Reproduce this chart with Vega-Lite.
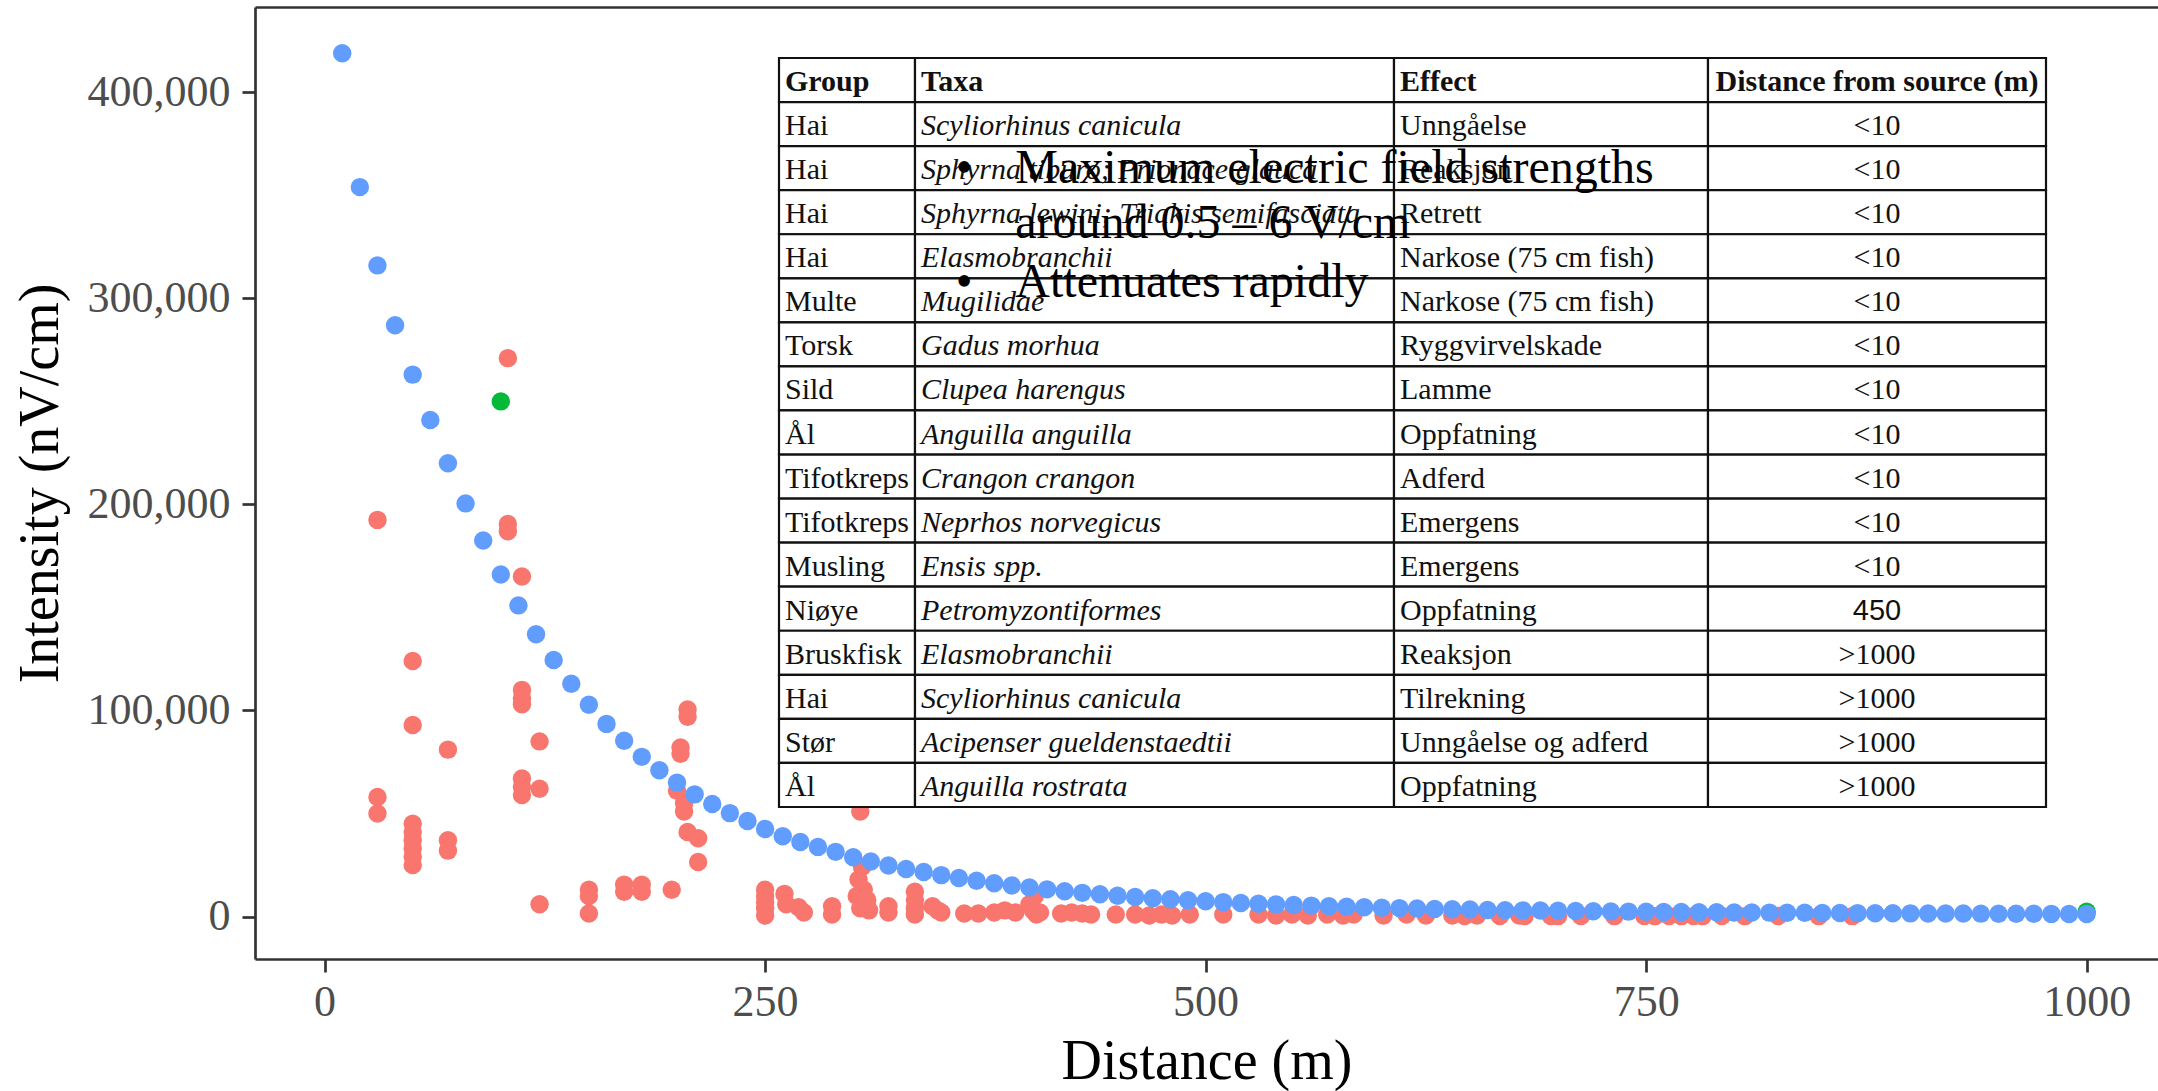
{
  "$schema": "https://vega.github.io/schema/vega-lite/v6.json",
  "width": 1903,
  "height": 952,
  "autosize": "none",
  "padding": {"left": 255, "top": 7, "right": 0, "bottom": 132},
  "background": "white",
  "config": {
    "font": "Liberation Serif",
    "view": {"stroke": null},
    "axis": {
      "grid": false,
      "labelFont": "Liberation Serif",
      "labelFontSize": 44,
      "labelColor": "#4D4D4D",
      "titleFont": "Liberation Serif",
      "titleFontSize": 56,
      "titleFontWeight": "normal",
      "titleColor": "#000000",
      "domainColor": "#333333",
      "domainWidth": 2.7,
      "tickColor": "#333333",
      "tickWidth": 2.7,
      "tickSize": 13
    }
  },
  "datasets": {
    "points": [
      {"d":30,"v":192500,"g":"measured"},{"d":30,"v":58000,"g":"measured"},{"d":30,"v":50000,"g":"measured"},
      {"d":50,"v":124000,"g":"measured"},{"d":50,"v":93000,"g":"measured"},{"d":50,"v":45000,"g":"measured"},{"d":50,"v":41000,"g":"measured"},{"d":50,"v":37000,"g":"measured"},{"d":50,"v":33000,"g":"measured"},{"d":50,"v":29000,"g":"measured"},{"d":50,"v":25000,"g":"measured"},
      {"d":70,"v":81000,"g":"measured"},{"d":70,"v":37000,"g":"measured"},{"d":70,"v":32000,"g":"measured"},
      {"d":104,"v":271000,"g":"measured"},{"d":104,"v":190500,"g":"measured"},{"d":104,"v":187000,"g":"measured"},
      {"d":112,"v":165000,"g":"measured"},{"d":112,"v":110000,"g":"measured"},{"d":112,"v":106000,"g":"measured"},{"d":112,"v":103000,"g":"measured"},{"d":112,"v":67000,"g":"measured"},{"d":112,"v":63000,"g":"measured"},{"d":112,"v":59000,"g":"measured"},
      {"d":122,"v":85000,"g":"measured"},{"d":122,"v":62000,"g":"measured"},{"d":122,"v":6000,"g":"measured"},
      {"d":150,"v":13000,"g":"measured"},{"d":150,"v":10000,"g":"measured"},{"d":150,"v":1500,"g":"measured"},
      {"d":170,"v":15500,"g":"measured"},{"d":170,"v":12000,"g":"measured"},
      {"d":180,"v":15500,"g":"measured"},{"d":180,"v":12000,"g":"measured"},
      {"d":197,"v":13000,"g":"measured"},
      {"d":200,"v":61000,"g":"measured"},
      {"d":202,"v":82000,"g":"measured"},{"d":202,"v":79000,"g":"measured"},
      {"d":204,"v":55000,"g":"measured"},{"d":204,"v":51000,"g":"measured"},
      {"d":206,"v":100500,"g":"measured"},{"d":206,"v":97000,"g":"measured"},{"d":206,"v":41000,"g":"measured"},
      {"d":212,"v":38000,"g":"measured"},{"d":212,"v":26500,"g":"measured"},
      {"d":250,"v":13000,"g":"measured"},{"d":250,"v":10000,"g":"measured"},{"d":250,"v":7000,"g":"measured"},{"d":250,"v":4000,"g":"measured"},{"d":250,"v":500,"g":"measured"},
      {"d":261,"v":11000,"g":"measured"},{"d":262,"v":6000,"g":"measured"},{"d":269,"v":4500,"g":"measured"},{"d":272,"v":2000,"g":"measured"},
      {"d":288,"v":5000,"g":"measured"},{"d":288,"v":1000,"g":"measured"},
      {"d":304,"v":51000,"g":"measured"},{"d":305,"v":24000,"g":"measured"},{"d":303,"v":18000,"g":"measured"},{"d":306,"v":13000,"g":"measured"},{"d":302,"v":10000,"g":"measured"},{"d":308,"v":8000,"g":"measured"},{"d":307,"v":6000,"g":"measured"},{"d":304,"v":4000,"g":"measured"},{"d":309,"v":3000,"g":"measured"},
      {"d":320,"v":5000,"g":"measured"},{"d":320,"v":2000,"g":"measured"},
      {"d":335,"v":12000,"g":"measured"},{"d":335,"v":8000,"g":"measured"},{"d":335,"v":4000,"g":"measured"},{"d":335,"v":1000,"g":"measured"},
      {"d":345,"v":5000,"g":"measured"},{"d":348,"v":3000,"g":"measured"},{"d":350,"v":2000,"g":"measured"},
      {"d":363,"v":1500,"g":"measured"},{"d":371,"v":1500,"g":"measured"},
      {"d":380,"v":2000,"g":"measured"},{"d":386,"v":3000,"g":"measured"},{"d":392,"v":2000,"g":"measured"},
      {"d":400,"v":6000,"g":"measured"},{"d":402,"v":3000,"g":"measured"},{"d":403,"v":10000,"g":"measured"},{"d":404,"v":1000,"g":"measured"},{"d":406,"v":2000,"g":"measured"},
      {"d":418,"v":1500,"g":"measured"},{"d":424,"v":2000,"g":"measured"},{"d":430,"v":1500,"g":"measured"},{"d":435,"v":1000,"g":"measured"},
      {"d":449,"v":1000,"g":"measured"},{"d":460,"v":1000,"g":"measured"},{"d":468,"v":500,"g":"measured"},{"d":475,"v":1000,"g":"measured"},{"d":481,"v":500,"g":"measured"},{"d":491,"v":1000,"g":"measured"},
      {"d":510,"v":1000,"g":"measured"},{"d":530,"v":1000,"g":"measured"},{"d":540,"v":500,"g":"measured"},{"d":549,"v":1000,"g":"measured"},{"d":558,"v":500,"g":"measured"},
      {"d":569,"v":1000,"g":"measured"},{"d":578,"v":500,"g":"measured"},{"d":584,"v":1000,"g":"measured"},
      {"d":601,"v":500,"g":"measured"},{"d":614,"v":1000,"g":"measured"},{"d":625,"v":500,"g":"measured"},
      {"d":640,"v":500,"g":"measured"},{"d":647,"v":300,"g":"measured"},{"d":654,"v":500,"g":"measured"},{"d":667,"v":300,"g":"measured"},{"d":678,"v":500,"g":"measured"},
      {"d":681,"v":300,"g":"measured"},{"d":696,"v":300,"g":"measured"},{"d":700,"v":200,"g":"measured"},{"d":713,"v":300,"g":"measured"},{"d":732,"v":200,"g":"measured"},{"d":749,"v":300,"g":"measured"},{"d":755,"v":200,"g":"measured"},{"d":763,"v":300,"g":"measured"},{"d":770,"v":200,"g":"measured"},{"d":777,"v":300,"g":"measured"},{"d":782,"v":200,"g":"measured"},{"d":793,"v":300,"g":"measured"},{"d":806,"v":200,"g":"measured"},{"d":825,"v":300,"g":"measured"},{"d":848,"v":200,"g":"measured"},{"d":867,"v":200,"g":"measured"},
      {"d":100,"v":250000,"g":"threshold"},{"d":1000,"v":2300,"g":"threshold"},
      {"d":10,"v":419000,"g":"model"},{"d":20,"v":354000,"g":"model"},{"d":30,"v":316000,"g":"model"},{"d":40,"v":287000,"g":"model"},{"d":50,"v":263000,"g":"model"},
      {"d":60,"v":241000,"g":"model"},{"d":70,"v":220000,"g":"model"},{"d":80,"v":200500,"g":"model"},{"d":90,"v":182500,"g":"model"},{"d":100,"v":166000,"g":"model"},
      {"d":110,"v":151000,"g":"model"},{"d":120,"v":137000,"g":"model"},{"d":130,"v":124500,"g":"model"},{"d":140,"v":113000,"g":"model"},{"d":150,"v":102800,"g":"model"},
      {"d":160,"v":93500,"g":"model"},{"d":170,"v":85300,"g":"model"},{"d":180,"v":77500,"g":"model"},{"d":190,"v":71000,"g":"model"},{"d":200,"v":65000,"g":"model"},
      {"d":210,"v":59300,"g":"model"},{"d":220,"v":54600,"g":"model"},{"d":230,"v":50200,"g":"model"},{"d":240,"v":46400,"g":"model"},{"d":250,"v":42500,"g":"model"},
      {"d":260,"v":39000,"g":"model"},{"d":270,"v":36200,"g":"model"},{"d":280,"v":33800,"g":"model"},{"d":290,"v":31400,"g":"model"},{"d":300,"v":28800,"g":"model"},
      {"d":310,"v":26700,"g":"model"},{"d":320,"v":24800,"g":"model"},{"d":330,"v":23100,"g":"model"},{"d":340,"v":21600,"g":"model"},{"d":350,"v":20100,"g":"model"},
      {"d":360,"v":18700,"g":"model"},{"d":370,"v":17400,"g":"model"},{"d":380,"v":16200,"g":"model"},{"d":390,"v":15100,"g":"model"},{"d":400,"v":14100,"g":"model"},
      {"d":410,"v":13200,"g":"model"},{"d":420,"v":12300,"g":"model"},{"d":430,"v":11500,"g":"model"},{"d":440,"v":10800,"g":"model"},{"d":450,"v":10100,"g":"model"},
      {"d":460,"v":9500,"g":"model"},{"d":470,"v":8900,"g":"model"},{"d":480,"v":8400,"g":"model"},{"d":490,"v":7900,"g":"model"},{"d":500,"v":7400,"g":"model"},
      {"d":510,"v":7000,"g":"model"},{"d":520,"v":6600,"g":"model"},{"d":530,"v":6200,"g":"model"},{"d":540,"v":5900,"g":"model"},{"d":550,"v":5600,"g":"model"},
      {"d":560,"v":5300,"g":"model"},{"d":570,"v":5000,"g":"model"},{"d":580,"v":4800,"g":"model"},{"d":590,"v":4500,"g":"model"},{"d":600,"v":4300,"g":"model"},
      {"d":610,"v":4100,"g":"model"},{"d":620,"v":3900,"g":"model"},{"d":630,"v":3700,"g":"model"},{"d":640,"v":3500,"g":"model"},{"d":650,"v":3400,"g":"model"},
      {"d":660,"v":3200,"g":"model"},{"d":670,"v":3100,"g":"model"},{"d":680,"v":3000,"g":"model"},{"d":690,"v":2900,"g":"model"},{"d":700,"v":2800,"g":"model"},
      {"d":710,"v":2700,"g":"model"},{"d":720,"v":2600,"g":"model"},{"d":730,"v":2500,"g":"model"},{"d":740,"v":2400,"g":"model"},{"d":750,"v":2300,"g":"model"},
      {"d":760,"v":2250,"g":"model"},{"d":770,"v":2200,"g":"model"},{"d":780,"v":2100,"g":"model"},{"d":790,"v":2050,"g":"model"},{"d":800,"v":2000,"g":"model"},
      {"d":810,"v":1950,"g":"model"},{"d":820,"v":1900,"g":"model"},{"d":830,"v":1850,"g":"model"},{"d":840,"v":1800,"g":"model"},{"d":850,"v":1750,"g":"model"},
      {"d":860,"v":1700,"g":"model"},{"d":870,"v":1660,"g":"model"},{"d":880,"v":1620,"g":"model"},{"d":890,"v":1580,"g":"model"},{"d":900,"v":1540,"g":"model"},
      {"d":910,"v":1500,"g":"model"},{"d":920,"v":1470,"g":"model"},{"d":930,"v":1440,"g":"model"},{"d":940,"v":1410,"g":"model"},{"d":950,"v":1380,"g":"model"},
      {"d":960,"v":1350,"g":"model"},{"d":970,"v":1320,"g":"model"},{"d":980,"v":1300,"g":"model"},{"d":990,"v":1270,"g":"model"},{"d":1000,"v":1250,"g":"model"}
    ],
    "table": [
      {"row":0,"Group":"Group","Taxa":"Taxa","Effect":"Effect","Distance":"Distance from source (m)"},
      {"row":1,"Group":"Hai","Taxa":"Scyliorhinus canicula","Effect":"Unngåelse","Distance":"<10"},
      {"row":2,"Group":"Hai","Taxa":"Sphyrna tiburo; Prionace glauca","Effect":"Reaksjon","Distance":"<10"},
      {"row":3,"Group":"Hai","Taxa":"Sphyrna lewini; Triakis semifasciata","Effect":"Retrett","Distance":"<10"},
      {"row":4,"Group":"Hai","Taxa":"Elasmobranchii","Effect":"Narkose (75 cm fish)","Distance":"<10"},
      {"row":5,"Group":"Multe","Taxa":"Mugilidae","Effect":"Narkose (75 cm fish)","Distance":"<10"},
      {"row":6,"Group":"Torsk","Taxa":"Gadus morhua","Effect":"Ryggvirvelskade","Distance":"<10"},
      {"row":7,"Group":"Sild","Taxa":"Clupea harengus","Effect":"Lamme","Distance":"<10"},
      {"row":8,"Group":"Ål","Taxa":"Anguilla anguilla","Effect":"Oppfatning","Distance":"<10"},
      {"row":9,"Group":"Tifotkreps","Taxa":"Crangon crangon","Effect":"Adferd","Distance":"<10"},
      {"row":10,"Group":"Tifotkreps","Taxa":"Neprhos norvegicus","Effect":"Emergens","Distance":"<10"},
      {"row":11,"Group":"Musling","Taxa":"Ensis spp.","Effect":"Emergens","Distance":"<10"},
      {"row":12,"Group":"Niøye","Taxa":"Petromyzontiformes","Effect":"Oppfatning","Distance":"450"},
      {"row":13,"Group":"Bruskfisk","Taxa":"Elasmobranchii","Effect":"Reaksjon","Distance":">1000"},
      {"row":14,"Group":"Hai","Taxa":"Scyliorhinus canicula","Effect":"Tilrekning","Distance":">1000"},
      {"row":15,"Group":"Stør","Taxa":"Acipenser gueldenstaedtii","Effect":"Unngåelse og adferd","Distance":">1000"},
      {"row":16,"Group":"Ål","Taxa":"Anguilla rostrata","Effect":"Oppfatning","Distance":">1000"}
    ],
    "cols": [
      {"col":"Group","left":0,"right":136,"mid":68},
      {"col":"Taxa","left":136,"right":615,"mid":375},
      {"col":"Effect","left":615,"right":929,"mid":772},
      {"col":"Distance","left":929,"right":1267,"mid":1098}
    ],
    "notes": [
      {"line":"Maximum electric field strengths","v":356000,"bullet":"•"},
      {"line":"around 0.5 – 6 V/cm","v":329500,"bullet":""},
      {"line":"Attenuates rapidly","v":300500,"bullet":"•"}
    ]
  },
  "layer": [
    {
      "data": {"name": "points"},
      "mark": {"type": "point", "filled": true, "opacity": 1, "size": 340, "shape": "circle", "strokeWidth": 0},
      "encoding": {
        "x": {"field": "d", "type": "quantitative",
          "scale": {"domain": [-39.5, 1040.5], "nice": false, "zero": false},
          "axis": {"orient": "bottom", "values": [0, 250, 500, 750, 1000], "format": "d", "title": "Distance (m)", "labelPadding": 8, "titlePadding": 10}},
        "y": {"field": "v", "type": "quantitative",
          "scale": {"domain": [-20600, 441400], "nice": false, "zero": false},
          "axis": {"orient": "left", "values": [0, 100000, 200000, 300000, 400000], "format": ",d", "title": "Intensity (nV/cm)", "labelPadding": 12, "titlePadding": 18}},
        "color": {"field": "g", "type": "nominal",
          "scale": {"domain": ["measured", "threshold", "model"], "range": ["#F8766D", "#00BA38", "#619CFF"]},
          "legend": null}
      }
    },
    {
      "data": {"name": "table"},
      "transform": [
        {"fold": ["Group", "Taxa", "Effect", "Distance"], "as": ["col", "text"]},
        {"lookup": "col", "from": {"data": {"name": "cols"}, "key": "col", "fields": ["left", "right", "mid"]}}
      ],
      "layer": [
        {
          "mark": {"type": "rect", "fill": "white", "stroke": "#111111", "strokeWidth": 2.2},
          "encoding": {
            "x": {"field": "left", "type": "quantitative", "scale": {"domain": [-524, 1379], "nice": false, "zero": false},
              "axis": {"orient": "top", "labels": false, "ticks": false, "title": null, "domain": true}},
            "x2": {"field": "right"},
            "y": {"field": "row", "type": "ordinal", "scale": {"type": "band", "domain": [0,1,2,3,4,5,6,7,8,9,10,11,12,13,14,15,16], "range": [51, 800], "paddingInner": 0, "paddingOuter": 0}, "axis": null}
          }
        },
        {
          "transform": [{"filter": "datum.row == 0 && datum.col != 'Distance'"}],
          "mark": {"type": "text", "align": "left", "baseline": "middle", "dx": 6, "dy": 2, "font": "Liberation Serif", "fontSize": 30, "fontWeight": "bold", "color": "#111111"},
          "encoding": {
            "x": {"field": "left", "type": "quantitative", "scale": {"domain": [-524, 1379], "nice": false, "zero": false},
              "axis": {"orient": "top", "labels": false, "ticks": false, "title": null, "domain": true}},
            "y": {"field": "row", "type": "ordinal", "scale": {"type": "band", "domain": [0,1,2,3,4,5,6,7,8,9,10,11,12,13,14,15,16], "range": [51, 800], "paddingInner": 0, "paddingOuter": 0}, "axis": null},
            "text": {"field": "text"}
          }
        },
        {
          "transform": [{"filter": "datum.row == 0 && datum.col == 'Distance'"}],
          "mark": {"type": "text", "align": "center", "baseline": "middle", "dy": 2, "font": "Liberation Serif", "fontSize": 30, "fontWeight": "bold", "color": "#111111"},
          "encoding": {
            "x": {"field": "mid", "type": "quantitative", "scale": {"domain": [-524, 1379], "nice": false, "zero": false},
              "axis": {"orient": "top", "labels": false, "ticks": false, "title": null, "domain": true}},
            "y": {"field": "row", "type": "ordinal", "scale": {"type": "band", "domain": [0,1,2,3,4,5,6,7,8,9,10,11,12,13,14,15,16], "range": [51, 800], "paddingInner": 0, "paddingOuter": 0}, "axis": null},
            "text": {"field": "text"}
          }
        },
        {
          "transform": [{"filter": "datum.row > 0 && datum.col == 'Taxa'"}],
          "mark": {"type": "text", "align": "left", "baseline": "middle", "dx": 6, "dy": 2, "font": "Liberation Serif", "fontSize": 30, "fontStyle": "italic", "color": "#111111"},
          "encoding": {
            "x": {"field": "left", "type": "quantitative", "scale": {"domain": [-524, 1379], "nice": false, "zero": false},
              "axis": {"orient": "top", "labels": false, "ticks": false, "title": null, "domain": true}},
            "y": {"field": "row", "type": "ordinal", "scale": {"type": "band", "domain": [0,1,2,3,4,5,6,7,8,9,10,11,12,13,14,15,16], "range": [51, 800], "paddingInner": 0, "paddingOuter": 0}, "axis": null},
            "text": {"field": "text"}
          }
        },
        {
          "transform": [{"filter": "datum.row > 0 && (datum.col == 'Group' || datum.col == 'Effect')"}],
          "mark": {"type": "text", "align": "left", "baseline": "middle", "dx": 6, "dy": 2, "font": "Liberation Serif", "fontSize": 30, "color": "#111111"},
          "encoding": {
            "x": {"field": "left", "type": "quantitative", "scale": {"domain": [-524, 1379], "nice": false, "zero": false},
              "axis": {"orient": "top", "labels": false, "ticks": false, "title": null, "domain": true}},
            "y": {"field": "row", "type": "ordinal", "scale": {"type": "band", "domain": [0,1,2,3,4,5,6,7,8,9,10,11,12,13,14,15,16], "range": [51, 800], "paddingInner": 0, "paddingOuter": 0}, "axis": null},
            "text": {"field": "text"}
          }
        },
        {
          "transform": [{"filter": "datum.row > 0 && datum.col == 'Distance' && datum.text != '450'"}],
          "mark": {"type": "text", "align": "center", "baseline": "middle", "dy": 2, "font": "Liberation Serif", "fontSize": 30, "color": "#111111"},
          "encoding": {
            "x": {"field": "mid", "type": "quantitative", "scale": {"domain": [-524, 1379], "nice": false, "zero": false},
              "axis": {"orient": "top", "labels": false, "ticks": false, "title": null, "domain": true}},
            "y": {"field": "row", "type": "ordinal", "scale": {"type": "band", "domain": [0,1,2,3,4,5,6,7,8,9,10,11,12,13,14,15,16], "range": [51, 800], "paddingInner": 0, "paddingOuter": 0}, "axis": null},
            "text": {"field": "text"}
          }
        },
        {
          "transform": [{"filter": "datum.row > 0 && datum.text == '450'"}],
          "mark": {"type": "text", "align": "center", "baseline": "middle", "dy": 2, "font": "Liberation Sans", "fontSize": 29, "color": "#111111"},
          "encoding": {
            "x": {"field": "mid", "type": "quantitative", "scale": {"domain": [-524, 1379], "nice": false, "zero": false},
              "axis": {"orient": "top", "labels": false, "ticks": false, "title": null, "domain": true}},
            "y": {"field": "row", "type": "ordinal", "scale": {"type": "band", "domain": [0,1,2,3,4,5,6,7,8,9,10,11,12,13,14,15,16], "range": [51, 800], "paddingInner": 0, "paddingOuter": 0}, "axis": null},
            "text": {"field": "text"}
          }
        }
      ]
    },
    {
      "data": {"name": "notes"},
      "layer": [
        {
          "mark": {"type": "text", "align": "left", "baseline": "alphabetic", "font": "Liberation Serif", "fontSize": 48, "color": "#000000"},
          "encoding": {
            "x": {"datum": 392, "type": "quantitative", "scale": {"domain": [-39.5, 1040.5], "nice": false, "zero": false}, "axis": null},
            "y": {"field": "v", "type": "quantitative", "scale": {"domain": [-20600, 441400], "nice": false, "zero": false}, "axis": null},
            "text": {"field": "line"}
          }
        },
        {
          "mark": {"type": "text", "align": "center", "baseline": "alphabetic", "font": "Liberation Serif", "fontSize": 48, "color": "#000000"},
          "encoding": {
            "x": {"datum": 363, "type": "quantitative", "scale": {"domain": [-39.5, 1040.5], "nice": false, "zero": false}, "axis": null},
            "y": {"field": "v", "type": "quantitative", "scale": {"domain": [-20600, 441400], "nice": false, "zero": false}, "axis": null},
            "text": {"field": "bullet"}
          }
        }
      ]
    }
  ],
  "resolve": {"scale": {"x": "independent", "y": "independent"}, "axis": {"x": "independent", "y": "independent"}}
}
